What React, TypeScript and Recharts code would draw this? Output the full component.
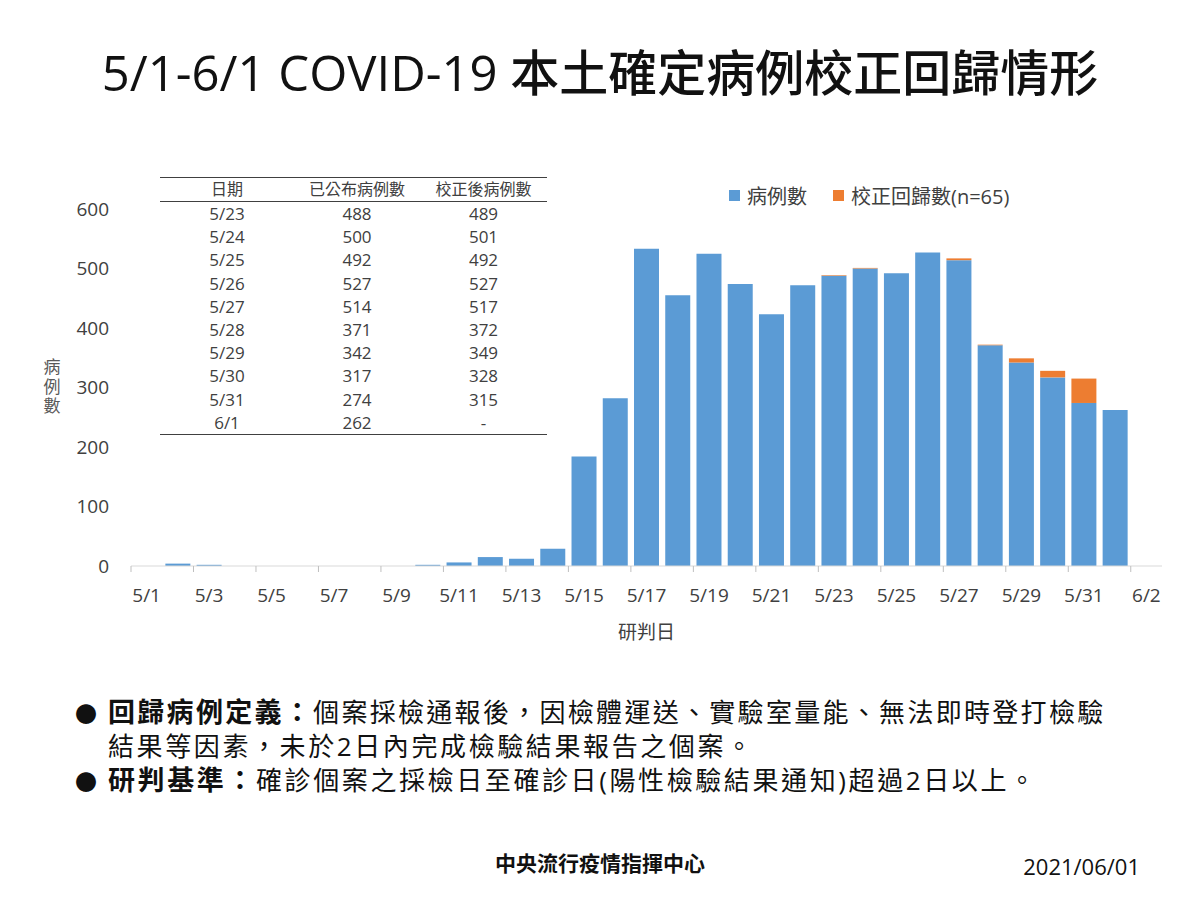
import React from 'react'
import { BarChart, Bar, XAxis, YAxis, Legend, Label } from 'recharts'

// category labels on the date axis (5/1 .. 6/2)
const dates = [
  '5/1', '5/2', '5/3', '5/4', '5/5', '5/6', '5/7', '5/8', '5/9', '5/10', '5/11',
  '5/12', '5/13', '5/14', '5/15', '5/16', '5/17', '5/18', '5/19', '5/20', '5/21',
  '5/22', '5/23', '5/24', '5/25', '5/26', '5/27', '5/28', '5/29', '5/30', '5/31',
  '6/1', '6/2',
]

// cases 5/1 - 5/22
const earlyCases = [0, 4, 2, 0, 0, 0, 0, 0, 0, 2, 6, 15, 12, 29, 184, 282, 533, 455, 525, 474, 423, 472]

// table: 5/23 - 6/1
const tableDates = ['5/23', '5/24', '5/25', '5/26', '5/27', '5/28', '5/29', '5/30', '5/31', '6/1']
const published = [488, 500, 492, 527, 514, 371, 342, 317, 274, 262]
const corrected: (number | null)[] = [489, 501, 492, 527, 517, 372, 349, 328, 315, null]

const yTicks = [0, 100, 200, 300, 400, 500, 600]
const tableHeader = ['日期', '已公布病例數', '校正後病例數']
const seriesOrder = ['cases', 'retro']

const BLUE = '#5B9BD5'
const ORANGE = '#ED7D31'
const TEXT = '#404040'
const FONT = "'Open Sans', 'Noto Sans CJK TC', sans-serif"
const CJK = "'Noto Sans CJK TC', sans-serif"

const chartData = dates.map((date, i) => {
  if (i < earlyCases.length) return { date, cases: earlyCases[i], retro: 0 }
  const j = i - earlyCases.length
  if (j < published.length) {
    const c = corrected[j]
    return { date, cases: published[j], retro: c != null ? c - published[j] : 0 }
  }
  return { date, cases: null, retro: null }
})

const retroTotal = chartData.reduce((s, d) => s + (d.retro || 0), 0)

const TICK_SIZE = 6
const TICK_MARGIN = 17

// label in the middle of the category, tick mark on the category boundary (Excel style)
function DateTick(props: any) {
  const { x, y, payload } = props
  const half = payload.offset ?? 15.6
  const axisY = y - TICK_SIZE - TICK_MARGIN
  return (
    <g>
      <line x1={x - half} x2={x - half} y1={axisY} y2={axisY + TICK_SIZE} stroke="#bfbfbf" />
      <text x={x} y={y} dy="0.71em" textAnchor="middle" fill={TEXT} fontSize={19} fontFamily={FONT}>
        {payload.value}
      </text>
    </g>
  )
}

function YAxisTitle(props: any) {
  const { viewBox } = props
  const cx = viewBox.x + 52
  const cy = viewBox.y + viewBox.height / 2
  return (
    <text
      x={cx}
      y={cy}
      textAnchor="middle"
      fontSize={17}
      letterSpacing={2.5}
      fill="#595959"
      fontFamily={CJK}
      style={{ writingMode: 'vertical-rl' } as React.CSSProperties}
    >
      病例數
    </text>
  )
}

function renderLegend(props: any) {
  const items = [...(props.payload || [])].sort(
    (a: any, b: any) => seriesOrder.indexOf(a.dataKey) - seriesOrder.indexOf(b.dataKey)
  )
  return (
    <div style={{ display: 'flex', alignItems: 'center', fontFamily: FONT, fontSize: 20, color: TEXT, whiteSpace: 'nowrap' }}>
      {items.map((p: any, i: number) => (
        <span key={i} style={{ display: 'flex', alignItems: 'center', marginRight: 26 }}>
          <span style={{ width: 11, height: 11, background: p.color, marginRight: 7, display: 'inline-block' }} />
          {p.value}
        </span>
      ))}
    </div>
  )
}

function DataTable() {
  const cell: React.CSSProperties = { padding: 0, height: 23.2, textAlign: 'center' }
  const widths = [134, 126, 127]
  return (
    <table
      style={{
        position: 'absolute', left: 160, top: 177, borderCollapse: 'collapse',
        fontFamily: FONT, fontSize: 17, color: TEXT, lineHeight: '23px',
        borderTop: '1px solid #404040', borderBottom: '1px solid #404040',
      }}
    >
      <thead>
        <tr style={{ borderBottom: '1px solid #404040' }}>
          {tableHeader.map((h, i) => (
            <th key={i} style={{ ...cell, width: widths[i], fontWeight: 'normal', height: 21, fontSize: 16 }}>{h}</th>
          ))}
        </tr>
      </thead>
      <tbody>
        {tableDates.map((d, i) => (
          <tr key={d}>
            <td style={cell}>{d}</td>
            <td style={cell}>{published[i]}</td>
            <td style={cell}>{corrected[i] != null ? corrected[i] : '-'}</td>
          </tr>
        ))}
      </tbody>
    </table>
  )
}

export default function App() {
  const bold: React.CSSProperties = { fontWeight: 'bold', fontSize: 27 }
  const bullet: React.CSSProperties = { position: 'absolute', left: -33, fontSize: 22, fontFamily: CJK, letterSpacing: 0 }
  const line: React.CSSProperties = { position: 'relative', height: 34, lineHeight: '34px', whiteSpace: 'nowrap' }
  return (
    <div
      lang="zh-Hant-TW"
      style={{ position: 'absolute', left: 0, top: 0, width: 1200, height: 900, background: '#fff', overflow: 'hidden' }}
    >
      <div
        style={{
          position: 'absolute', top: 40, left: 0, width: 1200, textAlign: 'center',
          fontSize: 49, lineHeight: '64px', fontFamily: FONT, color: '#111', fontWeight: 500,
        }}
      >
        5/1-6/1 COVID-19 本土確定病例校正回歸情形
      </div>

      <div style={{ position: 'absolute', left: 0, top: 0 }}>
        <BarChart
          width={1200}
          height={900}
          data={chartData}
          margin={{ top: 209, right: 38, bottom: 274, left: 0 }}
          barCategoryGap="10%"
        >
          <XAxis
            dataKey="date"
            interval={1}
            height={60}
            tickLine={false}
            tickSize={TICK_SIZE}
            tickMargin={TICK_MARGIN}
            tick={<DateTick />}
            axisLine={{ stroke: '#d9d9d9' }}
          >
            <Label value="研判日" position="bottom" offset={0} fill={TEXT} fontSize={19} fontFamily={CJK} />
          </XAxis>
          <YAxis
            width={131}
            domain={[0, 600]}
            ticks={yTicks}
            axisLine={false}
            tickLine={false}
            tickMargin={16}
            tick={{ fill: TEXT, fontSize: 19, fontFamily: FONT }}
          >
            <Label content={<YAxisTitle />} />
          </YAxis>
          <Legend
            layout="vertical"
            align="center"
            verticalAlign="middle"
            content={renderLegend}
            wrapperStyle={{ top: 181, left: 729 }}
          />
          <Bar dataKey="cases" name="病例數" stackId="a" fill={BLUE} isAnimationActive={false} />
          <Bar dataKey="retro" name={`校正回歸數(n=${retroTotal})`} stackId="a" fill={ORANGE} isAnimationActive={false} />
        </BarChart>
      </div>

      <DataTable />

      <div style={{ position: 'absolute', left: 108, top: 695, width: 1000, fontFamily: FONT, fontSize: 26, color: '#111' }}>
        <div style={{ ...line, letterSpacing: 2.3 }}>
          <span style={bullet}>●</span>
          <span style={bold}>回歸病例定義：</span>個案採檢通報後，因檢體運送、實驗室量能、無法即時登打檢驗
        </div>
        <div style={{ ...line, letterSpacing: 2.6 }}>結果等因素，未於2日內完成檢驗結果報告之個案。</div>
        <div style={{ ...line, letterSpacing: 2.6 }}>
          <span style={bullet}>●</span>
          <span style={bold}>研判基準：</span>確診個案之採檢日至確診日(陽性檢驗結果通知)超過2日以上。
        </div>
      </div>

      <div
        style={{
          position: 'absolute', top: 848, left: 0, width: 1200, textAlign: 'center',
          fontFamily: CJK, fontWeight: 'bold', fontSize: 21, lineHeight: '28px', color: '#111',
        }}
      >
        中央流行疫情指揮中心
      </div>
      <div
        style={{
          position: 'absolute', top: 851, right: 60, fontFamily: FONT, fontSize: 22,
          lineHeight: '30px', color: '#111',
        }}
      >
        2021/06/01
      </div>
    </div>
  )
}
